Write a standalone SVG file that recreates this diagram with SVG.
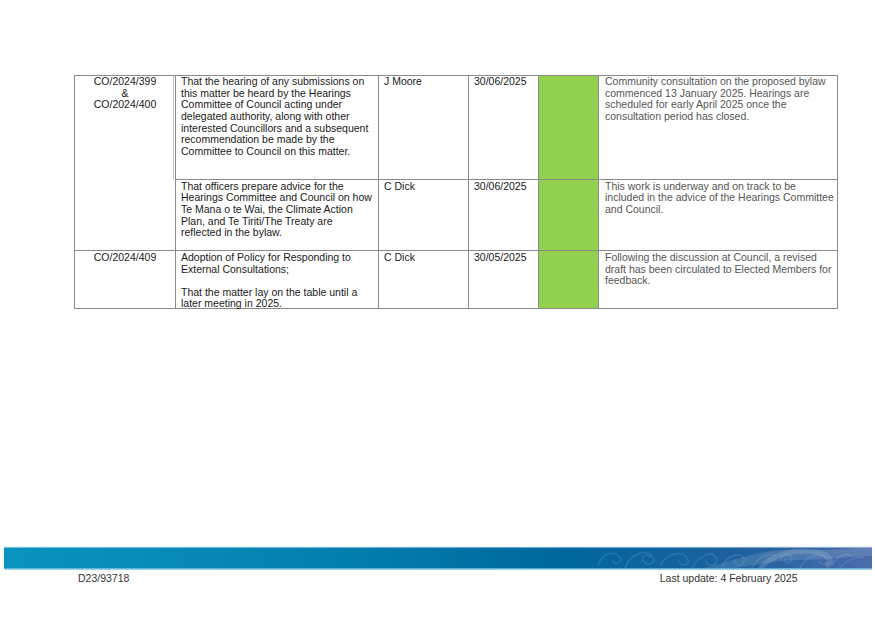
<svg xmlns="http://www.w3.org/2000/svg" width="875" height="618" viewBox="0 0 875 618">
<defs>
<style>
.t{font-family:"Liberation Sans",Arial,sans-serif;font-size:10.5px;fill:#1a1a1a}
.c{font-family:"Liberation Sans",Arial,sans-serif;font-size:10.5px;fill:#555555}
.m{text-anchor:middle}
.ln{stroke:#8a8a8a;stroke-width:1;fill:none}
.f{font-family:"Liberation Sans",Arial,sans-serif;font-size:10.5px;fill:#333333}
.pat{fill:none;stroke:#ffffff;stroke-opacity:0.13;stroke-width:1.3}
</style>
<linearGradient id="band" x1="0" y1="0" x2="1" y2="0">
<stop offset="0" stop-color="#0a93c0"/>
<stop offset="0.35" stop-color="#0481b2"/>
<stop offset="0.65" stop-color="#00679d"/>
<stop offset="0.85" stop-color="#1e619e"/>
<stop offset="1" stop-color="#4b6cab"/>
</linearGradient>
<clipPath id="bclip"><rect x="4" y="547.5" width="868" height="21"/></clipPath>
</defs>
<rect width="875" height="618" fill="#ffffff"/>

<g id="table">
<rect x="539" y="76" width="59.5" height="232.5" fill="#92d050"/>
<g id="grid">
<rect class="ln" x="74.5" y="75.5" width="763" height="233"/>
<line class="ln" x1="173.5" y1="75.5" x2="173.5" y2="179.5" stroke-opacity="0.5"/>
<line class="ln" x1="175.5" y1="75.5" x2="175.5" y2="308.5"/>
<line class="ln" x1="378.5" y1="75.5" x2="378.5" y2="308.5"/>
<line class="ln" x1="468.5" y1="75.5" x2="468.5" y2="308.5"/>
<line class="ln" x1="538.5" y1="75.5" x2="538.5" y2="308.5"/>
<line class="ln" x1="598.5" y1="75.5" x2="598.5" y2="308.5"/>
<line class="ln" x1="175.5" y1="179.5" x2="837.5" y2="179.5"/>
<line class="ln" x1="74.5" y1="250.5" x2="837.5" y2="250.5"/>
</g>

<g id="row1">
<text class="t m" x="125" y="85">CO/2024/399</text>
<text class="t m" x="125" y="96.7">&amp;</text>
<text class="t m" x="125" y="108.3">CO/2024/400</text>
<text class="t" x="181" y="85">That the hearing of any submissions on</text>
<text class="t" x="181" y="96.7">this matter be heard by the Hearings</text>
<text class="t" x="181" y="108.3">Committee of Council acting under</text>
<text class="t" x="181" y="120">delegated authority, along with other</text>
<text class="t" x="181" y="131.7">interested Councillors and a subsequent</text>
<text class="t" x="181" y="143.3">recommendation be made by the</text>
<text class="t" x="181" y="155">Committee to Council on this matter.</text>
<text class="t" x="384" y="85">J Moore</text>
<text class="t" x="474" y="85">30/06/2025</text>
<text class="c" x="605" y="85">Community consultation on the proposed bylaw</text>
<text class="c" x="605" y="96.7">commenced 13 January 2025. Hearings are</text>
<text class="c" x="605" y="108.3">scheduled for early April 2025 once the</text>
<text class="c" x="605" y="120">consultation period has closed.</text>
</g>

<g id="row2">
<text class="t" x="181" y="189.5">That officers prepare advice for the</text>
<text class="t" x="181" y="201.2">Hearings Committee and Council on how</text>
<text class="t" x="181" y="212.8">Te Mana o te Wai, the Climate Action</text>
<text class="t" x="181" y="224.5">Plan, and Te Tiriti/The Treaty are</text>
<text class="t" x="181" y="236.2">reflected in the bylaw.</text>
<text class="t" x="384" y="189.5">C Dick</text>
<text class="t" x="474" y="189.5">30/06/2025</text>
<text class="c" x="605" y="189.5">This work is underway and on track to be</text>
<text class="c" x="605" y="201.2">included in the advice of the Hearings Committee</text>
<text class="c" x="605" y="212.8">and Council.</text>
</g>

<g id="row3">
<text class="t m" x="125" y="261">CO/2024/409</text>
<text class="t" x="181" y="261">Adoption of Policy for Responding to</text>
<text class="t" x="181" y="272.7">External Consultations;</text>
<text class="t" x="181" y="295.5">That the matter lay on the table until a</text>
<text class="t" x="181" y="307">later meeting in 2025.</text>
<text class="t" x="384" y="261">C Dick</text>
<text class="t" x="474" y="261">30/05/2025</text>
<text class="c" x="605" y="261">Following the discussion at Council, a revised</text>
<text class="c" x="605" y="272.7">draft has been circulated to Elected Members for</text>
<text class="c" x="605" y="284.3">feedback.</text>
</g>
</g>

<g id="footer">
<line x1="4" y1="547" x2="872" y2="547" stroke="#cfe4ee" stroke-width="1"/>
<rect x="4" y="547.5" width="868" height="21" fill="url(#band)"/>
<g clip-path="url(#bclip)">
<path d="M700 569 C740 560 760 548 800 550 C830 551 850 548 872 547 L872 556 C850 556 830 560 800 560 C770 561 750 566 730 569 Z" fill="#ffffff" fill-opacity="0.12"/>
<path d="M760 569 C770 556 790 549 815 552 C830 554 835 562 826 566" fill="none" stroke="#ffffff" stroke-opacity="0.14" stroke-width="5"/>
<path class="pat" d="M598 566 C602 552 616 550 620 558 C623 564 614 566 612 560"/>
<path class="pat" d="M625 568 C630 554 645 549 652 556 C658 562 648 568 643 561 C640 556 648 553 651 558"/>
<path class="pat" d="M660 566 C668 552 684 550 688 560 C690 566 680 567 679 561"/>
<path class="pat" d="M692 568 C698 556 712 550 716 558 C720 566 706 568 706 560"/>
<path class="pat" d="M722 566 C730 552 746 552 744 562 C742 568 732 565 735 559"/>
<path class="pat" d="M752 568 C758 556 770 552 776 556"/>
<path class="pat" d="M780 560 C782 553 792 553 792 559 C792 564 784 564 785 559"/>
<path class="pat" d="M800 568 C806 556 820 552 826 558 C830 563 822 567 818 561"/>
<path class="pat" d="M832 566 C836 556 846 552 852 556"/>
<path class="pat" d="M840 568 C846 560 856 556 864 558"/>
</g>
<line x1="4" y1="569" x2="872" y2="569" stroke="#3aa6d4" stroke-width="1"/>
<text class="f" x="78" y="581.8">D23/93718</text>
<text class="f" x="797.5" y="581.8" text-anchor="end">Last update: 4 February 2025</text>
</g>
</svg>
